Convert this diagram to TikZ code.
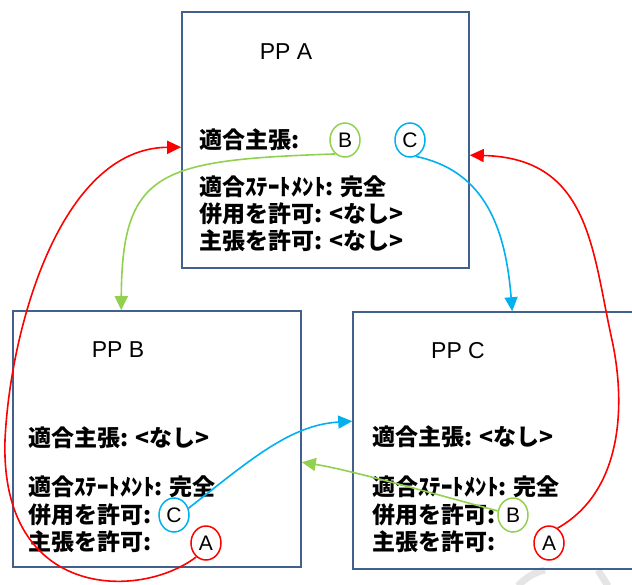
\documentclass[tikz,border=0pt]{standalone}
\usepackage{fontspec}
\setmainfont{Liberation Sans}
\newfontfamily\jp{Noto Sans CJK JP}
\usetikzlibrary{arrows.meta,shapes.geometric,calc}
\definecolor{boxc}{HTML}{41618C}
\definecolor{gr}{HTML}{92D050}
\definecolor{cy}{HTML}{00B0F0}
\definecolor{rd}{HTML}{FF0000}
\tikzset{
  ppbox/.style={draw=boxc,line width=1.6pt,rectangle,inner sep=0pt},
  jt/.style={anchor=west,font=\jp\bfseries\fontsize{23}{25}\selectfont,inner sep=0pt},
  tt/.style={anchor=center,font=\fontsize{23}{25}\selectfont,inner sep=0pt},
  circ/.style={draw=#1,line width=1.5pt,ellipse,minimum width=30pt,minimum height=34pt,inner sep=0pt,font=\fontsize{21}{23}\selectfont},
  conn/.style={draw=#1,line width=1.6pt,-{Triangle[length=14pt,width=13pt,fill=#1]}},
}
\begin{document}
\begin{tikzpicture}[x=1pt,y=-1pt]
\useasboundingbox (0,0) rectangle (632,584);
% watermark fragments
\draw[gray!20,line width=7pt] (518,586) .. controls (525,578) and (535,572) .. (545,570);
\draw[gray!20,line width=7pt] (598,570) -- (608,586);
% boxes
\node[ppbox,minimum width=287pt,minimum height=256pt] (A) at (325.5,140) {};
\node[ppbox,minimum width=288pt,minimum height=256pt] (B) at (157,439) {};
\node[ppbox,minimum width=280pt,minimum height=257pt] (C) at (493,440.5) {};
% box A
\node[tt] (ta) at (286,52) {PP A};
\node[jt] (a1) at (199,140) {適合主張:};
\node[circ=gr] (aB) at (345,140) {B};
\node[circ=cy] (aC) at (410,140) {C};
\node[jt] (a2) at (199,187) {適合ｽﾃｰﾄﾒﾝﾄ: 完全};
\node[jt] (a3) at (199,214) {併用を許可: <なし>};
\node[jt] (a4) at (199,241) {主張を許可: <なし>};
% box B
\node[tt] (tb) at (118,350) {PP B};
\node[jt] (b1) at (28,438) {適合主張: <なし>};
\node[jt] (b2) at (28,487) {適合ｽﾃｰﾄﾒﾝﾄ: 完全};
\node[jt] (b3) at (28,515) {併用を許可:};
\node[circ=cy] (bC) at (174,515) {C};
\node[jt] (b4) at (28,542) {主張を許可:};
\node[circ=rd] (bA) at (206,543) {A};
% box C
\node[tt] (tc) at (458,351) {PP C};
\node[jt] (c1) at (372,437) {適合主張: <なし>};
\node[jt] (c2) at (372,487) {適合ｽﾃｰﾄﾒﾝﾄ: 完全};
\node[jt] (c3) at (372,515) {併用を許可:};
\node[circ=gr] (cB) at (513,515) {B};
\node[jt] (c4) at (372,542) {主張を許可:};
\node[circ=rd] (cA) at (549,543) {A};
% connectors
\draw[conn=gr] (aB.235) .. controls (160,160) and (122,170) .. ($(B.north west)+(109,0)$);
\draw[conn=cy] (aC.290) .. controls (480,170) and (505,220) .. ($(C.north west)+(160,0)$);
\draw[conn=rd] (bA.235) .. controls (140,600) and (0,600) .. (5,440)
   .. controls (10,330) and (60,148) .. ($(A.north west)+(0,136)$);
\draw[conn=rd] (cA.60) .. controls (625,490) and (625,400) .. (612,340)
   .. controls (592,250) and (590,158) .. ($(A.north east)+(0,144)$);
\draw[conn=cy] (bC.25) .. controls (250,460) and (290,425) .. ($(C.north west)+(0,110)$);
\draw[conn=gr] (cB.165) .. controls (420,490) and (350,470) .. ($(B.north east)+(0,152)$);
\end{tikzpicture}
\end{document}
